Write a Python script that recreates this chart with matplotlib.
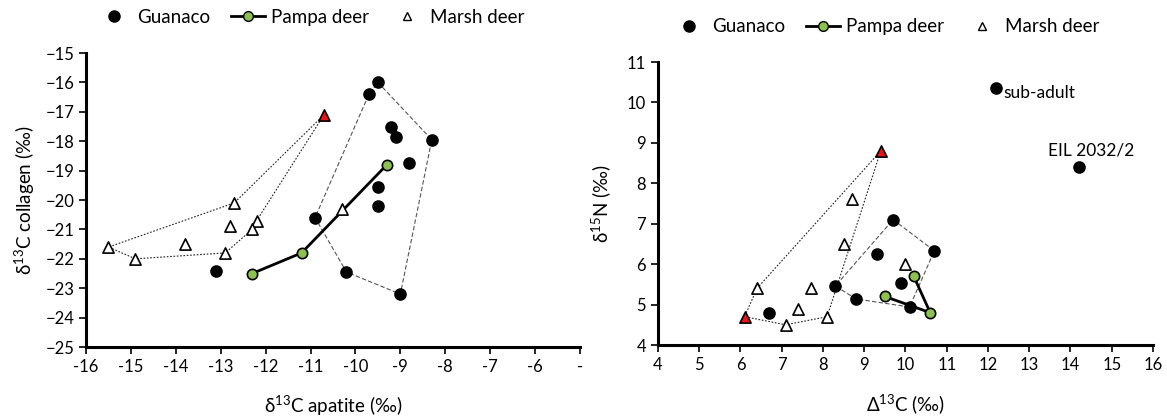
import matplotlib

matplotlib.use("Agg")
import matplotlib.pyplot as plt
from matplotlib.lines import Line2D

plt.rcParams["font.family"] = ["Lato", "DejaVu Sans"]
plt.rcParams["mathtext.fontset"] = "custom"
plt.rcParams["mathtext.rm"] = "Lato"

# --- left panel: d13C apatite vs d13C collagen -----------------------------
guan_apa = [-9.7, -9.5, -9.2, -9.1, -8.3, -8.8, -9.5, -9.5, -10.9, -13.1, -10.2, -9.0]
guan_col = [-16.4, -16.0, -17.5, -17.85, -17.95, -18.75, -19.55, -20.2, -20.6, -22.4, -22.45, -23.2]
guan_hull_l = [(-9.5, -16.0), (-8.3, -17.95), (-9.0, -23.2), (-10.2, -22.45),
               (-10.9, -20.6), (-9.7, -16.4), (-9.5, -16.0)]

pampa_apa = [-12.3, -11.2, -9.3]
pampa_col = [-22.5, -21.8, -18.8]

marsh_apa = [-12.7, -12.8, -12.2, -12.3, -13.8, -15.5, -14.9, -12.9, -10.3]
marsh_col = [-20.1, -20.9, -20.7, -21.0, -21.5, -21.6, -22.0, -21.8, -20.3]
marsh_red_l = (-10.7, -17.1)
marsh_hull_l = [(-10.7, -17.1), (-12.7, -20.1), (-15.5, -21.6), (-14.9, -22.0),
                (-12.9, -21.8), (-12.3, -21.0), (-12.2, -20.7), (-10.7, -17.1)]

# --- right panel: D13C vs d15N ----------------------------------------------
guan_d13 = [9.7, 9.3, 10.7, 9.9, 10.1, 8.3, 8.8, 6.7, 12.2, 14.2]
guan_n15 = [7.1, 6.25, 6.33, 5.53, 4.94, 5.46, 5.14, 4.8, 10.36, 8.4]
guan_hull_r = [(9.7, 7.1), (10.7, 6.33), (10.1, 4.94), (8.8, 5.14), (8.3, 5.46), (9.7, 7.1)]

pampa_d13 = [9.5, 10.6, 10.2]
pampa_n15 = [5.2, 4.8, 5.7]

marsh_d13 = [8.7, 8.5, 6.4, 7.7, 7.4, 7.1, 8.1, 10.0]
marsh_n15 = [7.6, 6.5, 5.4, 5.4, 4.9, 4.5, 4.7, 6.0]
marsh_red_r = [(9.4, 8.8), (6.1, 4.7)]
marsh_hull_r = [(9.4, 8.8), (6.4, 5.4), (6.1, 4.7), (7.1, 4.5), (8.1, 4.7), (9.4, 8.8)]

GREEN = "#8DC04F"
RED = "#E8141B"

fig = plt.figure(figsize=(11.67, 4.19), dpi=100)
ax1 = fig.add_axes([0.0737, 0.1718, 0.4233, 0.7017])
ax2 = fig.add_axes([0.5638, 0.1766, 0.4242, 0.6754])


def hull(ax, pts, ls, color):
    xs, ys = zip(*pts)
    ax.plot(xs, ys, ls=ls, color=color, lw=0.8, zorder=1)


def style(ax):
    for s in ("top", "right"):
        ax.spines[s].set_visible(False)
    for s in ("left", "bottom"):
        ax.spines[s].set_linewidth(2.2)
    ax.tick_params(direction="out", length=5, width=1.2, labelsize=12)


def legend(ax, anchor_x, anchor_y):
    handles = [
        Line2D([], [], ls="none", marker="o", ms=8, mfc="k", mec="k"),
        Line2D([], [], color="k", lw=2, marker="o", ms=7, mfc=GREEN, mec="k"),
        Line2D([], [], ls="none", marker="^", ms=6, mfc="white", mec="k"),
    ]
    ax.legend(handles, ["Guanaco", "Pampa deer", "Marsh deer"], ncol=3,
              frameon=False, fontsize=13.5, loc="center",
              bbox_to_anchor=(anchor_x, anchor_y), handlelength=1.8,
              handletextpad=0.3, columnspacing=1.15)


# left
hull(ax1, guan_hull_l, (0, (4, 2)), "#555555")
hull(ax1, marsh_hull_l, (0, (1.5, 1.5)), "#222222")
ax1.plot(pampa_apa, pampa_col, color="k", lw=2, zorder=2)
ax1.scatter(marsh_apa, marsh_col, marker="^", s=65, facecolor="white",
            edgecolor="k", linewidth=1.2, zorder=3)
ax1.scatter(*marsh_red_l, marker="^", s=65, facecolor=RED, edgecolor="k",
            linewidth=1.2, zorder=3)
ax1.scatter(guan_apa, guan_col, marker="o", s=65, color="k", zorder=4)
ax1.scatter(pampa_apa, pampa_col, marker="o", s=55, facecolor=GREEN,
            edgecolor="k", linewidth=1.2, zorder=5)
ax1.set_xlim(-16, -5)
ax1.set_ylim(-25, -15)
ax1.set_xticks(range(-16, -4))
ax1.set_xticklabels([str(v) for v in range(-16, -5)] + ["-"])
ax1.set_yticks(range(-25, -14))
ax1.set_xlabel(r"$\mathregular{\delta^{13}}$C apatite (‰)", fontsize=13.5, labelpad=14)
ax1.set_ylabel(r"$\mathregular{\delta^{13}}$C collagen (‰)", fontsize=13.5, labelpad=6)
style(ax1)
legend(ax1, 0.455, 1.122)

# right
hull(ax2, guan_hull_r, (0, (4, 2)), "#555555")
hull(ax2, marsh_hull_r, (0, (1.5, 1.5)), "#222222")
ax2.plot(pampa_d13, pampa_n15, color="k", lw=2, zorder=2)
ax2.scatter(marsh_d13, marsh_n15, marker="^", s=65, facecolor="white",
            edgecolor="k", linewidth=1.2, zorder=3)
rx, ry = zip(*marsh_red_r)
ax2.scatter(rx, ry, marker="^", s=65, facecolor=RED, edgecolor="k",
            linewidth=1.2, zorder=3)
ax2.scatter(guan_d13, guan_n15, marker="o", s=65, color="k", zorder=4)
ax2.scatter(pampa_d13, pampa_n15, marker="o", s=55, facecolor=GREEN,
            edgecolor="k", linewidth=1.2, zorder=5)
ax2.annotate("sub-adult", (guan_d13[8], guan_n15[8]), xytext=(5, -4),
             textcoords="offset points", fontsize=12.5, va="center")
ax2.annotate("EIL 2032/2", (guan_d13[9], guan_n15[9]), xytext=(9, 6),
             textcoords="offset points", fontsize=12.5, ha="center", va="bottom")
ax2.set_xlim(4, 16)
ax2.set_ylim(4, 11)
ax2.set_xticks(range(4, 17))
ax2.set_yticks(range(4, 12))
ax2.set_xlabel(r"$\mathregular{\Delta^{13}}$C (‰)", fontsize=13.5, labelpad=14)
ax2.set_ylabel(r"$\mathregular{\delta^{15}}$N (‰)", fontsize=13.5, labelpad=10)
style(ax2)
legend(ax2, 0.46, 1.125)

fig.savefig("out.png", dpi=100)
